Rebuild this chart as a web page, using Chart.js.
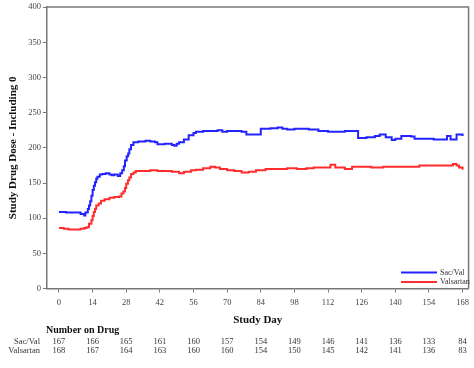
<!DOCTYPE html>
<html lang="en">
<head>
  <meta charset="UTF-8">
  <title>Study Drug Dose</title>
  <script src="https://cdn.jsdelivr.net/npm/chart.js"></script>
  <style>
    html, body { margin: 0; padding: 0; background: #fff; }
    #wrap { width: 474px; height: 368px; position: relative; }
  </style>
</head>
<body>
  <div id="wrap"><canvas id="doseChart" width="474" height="368"></canvas></div>

  <script>
    // ticks on the day axis
    const dayTicks = [0, 14, 28, 42, 56, 70, 84, 98, 112, 126, 140, 154, 168];

    // Sac/Val mean dose (step curve)
    const sacDays = [0, 3, 6, 9, 10.5, 11, 12, 12.5, 13, 13.5, 14, 14.5, 15, 15.5, 16, 17, 18, 19.5, 21, 22, 23, 24.5, 25.5, 26.3, 27, 27.5, 28.2, 28.8, 29.3, 30, 31, 33, 36, 38, 40, 41, 44, 47, 48, 49, 50, 52, 54, 56, 57, 60, 63, 66, 68, 70, 73, 76, 78, 82, 84, 88, 91, 93, 95, 98, 101, 104, 108, 112, 116, 119, 124.5, 128, 131.5, 133.5, 136, 138.5, 140, 142.5, 146.5, 148, 152, 156, 160, 161.5, 163, 165.5, 168];
    const sacDose = [109, 108, 108, 106, 104, 108, 113, 118, 124, 132, 140, 146, 151, 156, 159, 162, 163, 164, 162, 161, 162, 160, 164, 168, 174, 182, 188, 192, 198, 204, 208, 209, 210, 209, 208, 205, 206, 204, 203, 206, 208, 212, 218, 221, 223, 224, 224, 225, 223, 224, 224, 223, 219, 219, 227, 228, 229, 227, 226, 227, 227, 226, 224, 223, 223, 224, 214, 215, 217, 219, 215, 211, 213, 217, 216, 213, 213, 212, 212, 217, 212, 219, 217];

    // Valsartan mean dose (step curve)
    const valDays = [0, 2, 4, 7, 9, 10.5, 11.5, 12.5, 13.5, 14, 14.5, 15, 15.5, 16.5, 17.5, 19, 21, 23, 25, 26, 26.8, 27.5, 28, 28.7, 29.3, 30, 31, 32, 35, 38, 41, 44, 47, 50, 52, 55, 57, 60, 63, 65, 67, 70, 73, 76, 79, 82, 86, 90, 95, 99, 103, 106, 110, 113, 115, 119, 122, 126, 130, 135, 140, 146, 150, 155, 160, 164, 165.5, 166.5, 168];
    const valDose = [86, 85, 84, 84, 85, 86, 87, 92, 97, 103, 109, 113, 118, 121, 125, 127, 129, 130, 131, 135, 138, 143, 149, 154, 158, 163, 165, 167, 167, 168, 167, 167, 166, 164, 166, 168, 169, 171, 173, 172, 170, 168, 167, 165, 166, 168, 170, 170, 171, 170, 171, 172, 172, 176, 172, 170, 173, 173, 172, 173, 173, 173, 175, 175, 175, 177, 175, 172, 169];

    // number on drug table
    const atRiskSac = [167, 166, 165, 161, 160, 157, 154, 149, 146, 141, 136, 133, 84];
    const atRiskVal = [168, 167, 164, 163, 160, 160, 154, 150, 145, 142, 141, 136, 83];

    const serif = "'Liberation Serif', 'DejaVu Serif', serif";
    const blue = "rgb(35,35,255)";
    const red = "rgb(255,45,45)";

    const toPoints = (xs, ys) => xs.map((x, i) => ({ x: x, y: ys[i] }));

    // frame, legend and the number-on-drug rows
    const extras = {
      id: "extras",
      afterDraw(chart) {
        const ctx = chart.ctx;
        const a = chart.chartArea;
        const xs = chart.scales.x;
        ctx.save();
        ctx.strokeStyle = "#777";
        ctx.lineWidth = 1.5;
        ctx.beginPath();
        ctx.moveTo(a.left, a.top);
        ctx.lineTo(a.right, a.top);
        ctx.lineTo(a.right, a.bottom);
        ctx.stroke();

        // legend
        ctx.lineWidth = 2;
        ctx.font = "8px " + serif;
        ctx.textBaseline = "middle";
        ctx.textAlign = "left";
        ctx.fillStyle = "#333";
        [[blue, "Sac/Val", 272.5], [red, "Valsartan", 282]].forEach(([c, t, y]) => {
          ctx.strokeStyle = c;
          ctx.beginPath();
          ctx.moveTo(401, y);
          ctx.lineTo(437, y);
          ctx.stroke();
          ctx.fillText(t, 440, y);
        });

        // table
        ctx.fillStyle = "#111";
        ctx.font = "bold 10px " + serif;
        ctx.fillText("Number on Drug", 46, 330);
        ctx.font = "8.5px " + serif;
        ctx.fillStyle = "#333";
        ctx.textAlign = "right";
        ctx.fillText("Sac/Val", 40, 341.5);
        ctx.fillText("Valsartan", 40, 351);
        ctx.textAlign = "center";
        dayTicks.forEach((d, i) => {
          const px = xs.getPixelForValue(d);
          ctx.fillText(String(atRiskSac[i]), px, 341.5);
          ctx.fillText(String(atRiskVal[i]), px, 351);
        });
        ctx.restore();
      }
    };

    new Chart(document.getElementById("doseChart"), {
      type: "line",
      data: {
        datasets: [
          { label: "Sac/Val", data: toPoints(sacDays, sacDose), borderColor: blue, borderWidth: 2, stepped: true, pointRadius: 0, fill: false },
          { label: "Valsartan", data: toPoints(valDays, valDose), borderColor: red, borderWidth: 2, stepped: true, pointRadius: 0, fill: false }
        ]
      },
      options: {
        responsive: false,
        animation: false,
        layout: { padding: { top: 6, right: 3, bottom: 41, left: 7 } },
        plugins: { legend: { display: false }, tooltip: { enabled: false } },
        scales: {
          x: {
            type: "linear",
            min: -5,
            max: 170.5,
            afterBuildTicks: (s) => { s.ticks = dayTicks.map(v => ({ value: v })); },
            grid: { drawOnChartArea: false, drawTicks: true, tickLength: 4, color: "#777" },
            border: { color: "#777", width: 1.5 },
            ticks: { color: "#444", font: { family: serif, size: 8.5 }, padding: 5, maxRotation: 0 },
            title: { display: true, text: "Study Day", color: "#111", font: { family: serif, size: 11, weight: "bold" }, padding: { top: 1, bottom: 0 } }
          },
          y: {
            min: 0,
            max: 400,
            ticks: { stepSize: 50, color: "#444", font: { family: serif, size: 8.5 }, padding: 2 },
            grid: { drawOnChartArea: false, drawTicks: true, tickLength: 4, color: "#777" },
            border: { color: "#777", width: 1.5 },
            title: { display: true, text: "Study Drug Dose - Including 0", color: "#111", font: { family: serif, size: 11, weight: "bold" }, padding: { top: 0, bottom: 6 } }
          }
        }
      },
      plugins: [extras]
    });
  </script>
</body>
</html>
